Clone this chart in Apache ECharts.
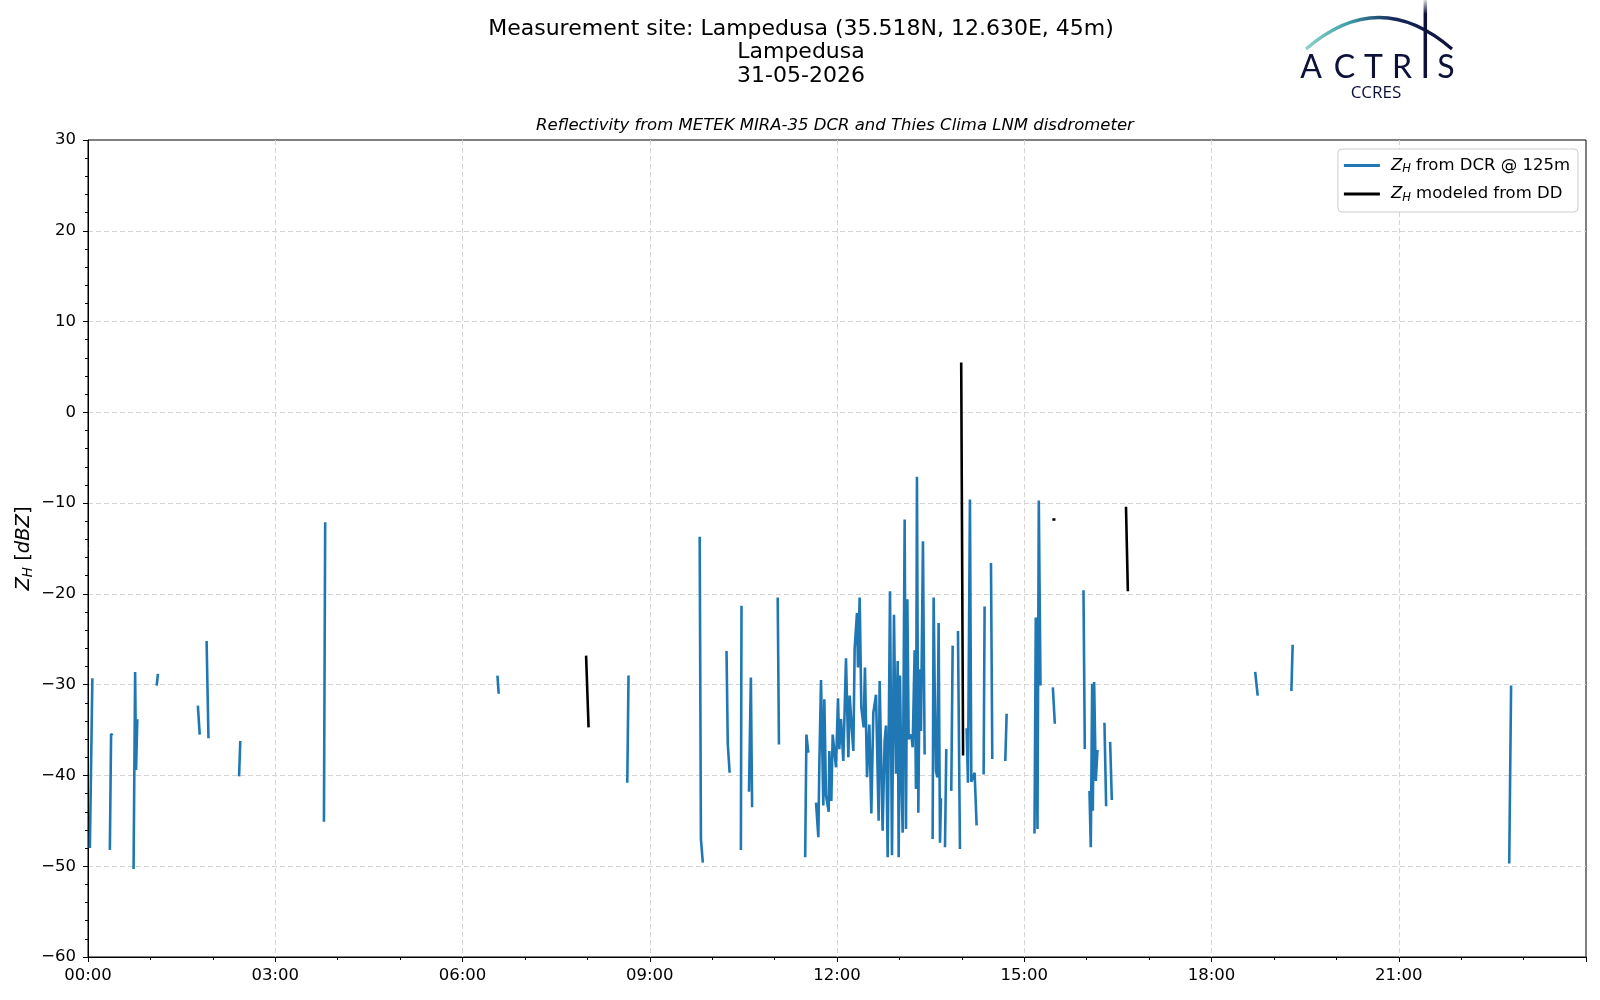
<!DOCTYPE html>
<html>
<head>
<meta charset="utf-8">
<script src="https://cdn.jsdelivr.net/npm/echarts@6/dist/echarts.min.js"></script>
<style>
  html, body { margin: 0; padding: 0; background: #fff; }
  #main { width: 1600px; height: 1000px; }
</style>
</head>
<body>
<div id="main"></div>
<script>
// times in hours since 00:00, null value = gap in the record
var dcrTime = [
  0.03, 0.07, null,
  0.35, 0.37, 0.39, null,
  0.73, 0.755, 0.77, 0.79, null,
  1.10, 1.12, null,
  1.76, 1.79, null,
  1.90, 1.93, null,
  2.42, 2.44, null,
  3.78, 3.80, null,
  6.56, 6.58, null,
  8.64, 8.66, null,
  9.80, 9.82, 9.85, null,
  10.23, 10.25, 10.28, null,
  10.46, 10.47, null,
  10.59, 10.62, 10.64, null,
  11.05, 11.07, null,
  11.49, 11.51, 11.54, null,
  11.664, 11.701, 11.717, 11.744, 11.781, 11.797, 11.824, 11.867, 11.877, 11.909,
  11.931, 11.963, 11.984, 12.016, 12.037, 12.064, 12.101, 12.144, 12.182, 12.203,
  12.235, 12.262, 12.283, 12.320, 12.336, 12.363, 12.390, 12.427, 12.448, 12.481,
  12.518, 12.550, 12.582, 12.625, 12.667, 12.683, 12.731, 12.763, 12.785, 12.812,
  12.849, 12.881, 12.913, 12.945, 12.972, 12.988, 13.009, 13.030, 13.052, 13.084,
  13.105, 13.127, 13.148, 13.191, 13.212, 13.244, 13.265, 13.281, 13.303, 13.324,
  13.345, 13.377, 13.404, null,
  13.532, 13.548, 13.564, 13.586, 13.607, 13.628, 13.650, 13.666, null,
  13.730, 13.751, null,
  13.831, 13.853, null,
  13.938, 13.970, null,
  14.077, 14.098, 14.130, 14.152, 14.205, 14.237, null,
  14.349, 14.365, null,
  14.467, 14.488, null,
  14.696, 14.718, null,
  15.164, 15.185, 15.212, 15.233, 15.260, null,
  15.458, 15.490, null,
  15.949, 15.970, null,
  16.045, 16.066, 16.088, 16.098, 16.120, 16.146, 16.173, null,
  16.285, 16.312, null,
  16.376, 16.403, null,
  18.70, 18.74, null,
  19.28, 19.30, null,
  22.77, 22.80
];
var dcrZh = [
  -48.0, -29.3, null,
  -48.2, -35.4, -35.6, null,
  -50.3, -28.6, -39.4, -33.8, null,
  -30.1, -28.8, null,
  -32.3, -35.5, null,
  -25.2, -35.9, null,
  -40.1, -36.2, null,
  -45.1, -12.1, null,
  -29.0, -31.0, null,
  -40.8, -29.0, null,
  -13.7, -47.0, -49.6, null,
  -26.3, -36.5, -39.7, null,
  -48.2, -21.3, null,
  -41.8, -29.2, -43.5, null,
  -20.4, -36.6, null,
  -49.0, -35.5, -37.5, null,
  -43.0, -46.8, -38.8, -29.5, -43.3, -31.6, -42.2, -44.0, -37.3, -42.8,
  -35.5, -35.3, -39.1, -31.5, -37.1, -33.8, -38.4, -27.1, -38.0, -31.2,
  -34.7, -37.3, -26.0, -22.1, -28.1, -20.4, -32.5, -34.7, -28.1, -40.2,
  -34.4, -44.2, -33.1, -31.1, -45.0, -29.6, -46.1, -36.2, -34.5, -49.0,
  -19.7, -48.8, -22.3, -39.8, -27.4, -49.0, -29.0, -39.6, -46.3, -11.8,
  -45.9, -20.6, -36.0, -35.5, -36.9, -26.2, -41.5, -7.1, -44.1, -28.3,
  -35.1, -14.2, -37.7, null,
  -47.0, -20.4, -29.8, -39.5, -40.2, -23.2, -47.4, -42.5, null,
  -47.9, -37.1, null,
  -41.7, -25.7, null,
  -24.1, -48.1, null,
  -34.8, -40.8, -9.6, -40.7, -39.7, -45.5, null,
  -39.9, -21.4, null,
  -16.6, -38.2, null,
  -38.4, -33.2, null,
  -46.4, -22.6, -45.9, -9.7, -30.1, null,
  -30.3, -34.3, null,
  -19.6, -37.1, null,
  -41.7, -47.9, -29.9, -43.9, -29.7, -40.6, -37.2, null,
  -34.2, -43.4, null,
  -36.3, -42.7, null,
  -28.6, -31.2, null,
  -30.7, -25.6, null,
  -49.7, -30.1
];
var ddTime = [7.98, 8.02, null, 13.99, 14.02, null, 15.45, 15.50, null, 16.63, 16.66];
var ddZh = [-26.8, -34.7, null, 5.5, -37.8, null, -11.8, -11.8, null, -10.4, -19.7];

var titleLines = ['Measurement site: Lampedusa (35.518N, 12.630E, 45m)', 'Lampedusa', '31-05-2026'];
var subTitle = 'Reflectivity from METEK MIRA-35 DCR and Thies Clima LNM disdrometer';
var legendNames = ['dcr', 'dd'];
var legendTexts = ['{i|Z}{s|H} from DCR @ 125m', '{i|Z}{s|H} modeled from DD'];

function pairs(t, v) {
  var out = [];
  for (var i = 0; i < t.length; i++) {
    // a null entry breaks the line
    out.push(v[i] === null ? [t[i - 1] || 0, '-'] : [t[i], v[i]]);
  }
  return out;
}

var FONT = '"DejaVu Sans", sans-serif';
var navy = '#0d1038';

var chart = echarts.init(document.getElementById('main'));

function label(x, y, text, font, fill) {
  return {
    type: 'text', x: x, y: y, z: 10,
    style: { text: text, fill: fill || '#000', font: font,
      textAlign: 'center', textVerticalAlign: 'middle', align: 'center', verticalAlign: 'middle' }
  };
}

var graphics = [];
var titleY = [29, 52.5, 76];
for (var k = 0; k < titleLines.length; k++) {
  graphics.push(label(801, titleY[k], titleLines[k], '22px ' + FONT));
}
graphics.push(label(835, 126, subTitle, 'italic 16.5px ' + FONT));

// ACTRIS logo
graphics.push({
  type: 'bezierCurve',
  shape: { x1: 1306, y1: 49, x2: 1452, y2: 49, cpx1: 1379, cpy1: -14 },
  style: {
    fill: null, lineWidth: 3.2,
    stroke: new echarts.graphic.LinearGradient(0, 0, 1, 0, [
      { offset: 0, color: '#8fd5ca' },
      { offset: 0.3, color: '#3e9ea8' },
      { offset: 0.6, color: '#16285a' },
      { offset: 1, color: navy }
    ])
  }
});
graphics.push({
  type: 'line',
  shape: { x1: 1425.3, y1: 0, x2: 1425.3, y2: 78 },
  style: {
    lineWidth: 3.5,
    stroke: new echarts.graphic.LinearGradient(0, 0, 0, 1, [
      { offset: 0, color: '#ffffff' },
      { offset: 0.2, color: navy },
      { offset: 1, color: navy }
    ])
  }
});
var letters = ['A', 'C', 'T', 'R', 'S'];
var letterX = [1311, 1344.5, 1373.5, 1402, 1446];
for (var j = 0; j < letters.length; j++) {
  graphics.push(label(letterX[j], 68, letters[j], '32px Lato, sans-serif', navy));
}
graphics.push(label(1376, 93.5, 'CCRES', '17px "Open Sans", sans-serif', navy));

var richMath = {
  i: { fontStyle: 'italic', fontSize: 16.5, fontFamily: FONT, color: '#000' },
  s: { fontStyle: 'italic', fontSize: 11.5, fontFamily: FONT, color: '#000', padding: [8, 0, 0, 0] }
};
var gridLine = { show: true, showMinLine: false, showMaxLine: false,
  lineStyle: { color: '#d5d5d5', type: [5, 3], width: 1 } };

chart.setOption({
  animation: false,
  backgroundColor: '#fff',
  textStyle: { fontFamily: FONT },
  graphic: graphics,
  grid: {
    left: 88, right: 14, top: 140, bottom: 43,
    show: true, borderColor: '#000', borderWidth: 1, backgroundColor: 'transparent'
  },
  legend: {
    orient: 'vertical',
    right: 22, top: 149,
    data: legendNames,
    backgroundColor: '#fff',
    borderColor: '#cccccc', borderWidth: 1, borderRadius: 4,
    padding: [8, 8, 8, 6],
    itemGap: 10,
    itemWidth: 36, itemHeight: 3,
    icon: 'rect',
    formatter: function (n) { return legendTexts[legendNames.indexOf(n)]; },
    textStyle: { fontSize: 16.5, color: '#000', padding: [0, 0, 0, 6], rich: richMath }
  },
  xAxis: {
    type: 'value', min: 0, max: 24, interval: 3,
    axisLine: { onZero: false, lineStyle: { color: '#000', width: 1 } },
    axisTick: { length: 5, lineStyle: { color: '#000' } },
    minorTick: { show: true, splitNumber: 3, length: 3, lineStyle: { color: '#000' } },
    axisLabel: {
      color: '#000', fontSize: 16.5, margin: 10, showMaxLabel: false,
      formatter: function (v) { return (v < 10 ? '0' : '') + v + ':00'; }
    },
    splitLine: gridLine
  },
  yAxis: {
    type: 'value', min: -60, max: 30, interval: 10,
    name: '{i|Z}{s|H} [{i|dBZ}]',
    nameLocation: 'middle', nameRotate: 90, nameGap: 53, nameMoveOverlap: false,
    nameTextStyle: { fontSize: 19.5, color: '#000', rich: {
      i: { fontStyle: 'italic', fontSize: 19.5, fontFamily: FONT, color: '#000' },
      s: { fontStyle: 'italic', fontSize: 13.5, fontFamily: FONT, color: '#000', padding: [9, 0, 0, 0] }
    } },
    axisLine: { show: true, onZero: false, lineStyle: { color: '#000', width: 1 } },
    axisTick: { show: true, length: 5, lineStyle: { color: '#000' } },
    minorTick: { show: true, splitNumber: 5, length: 3, lineStyle: { color: '#000' } },
    axisLabel: {
      color: '#000', fontSize: 16.5, margin: 12,
      formatter: function (v) { return v < 0 ? '\u2212' + Math.abs(v) : String(v); }
    },
    splitLine: gridLine
  },
  series: [
    {
      name: 'dcr', type: 'line', data: pairs(dcrTime, dcrZh),
      showSymbol: false, symbol: 'none', connectNulls: false,
      color: '#1f77b4', lineStyle: { width: 2.6, color: '#1f77b4' }
    },
    {
      name: 'dd', type: 'line', data: pairs(ddTime, ddZh),
      showSymbol: false, symbol: 'none', connectNulls: false,
      color: '#000', lineStyle: { width: 2.6, color: '#000' }
    }
  ]
});
</script>
</body>
</html>
